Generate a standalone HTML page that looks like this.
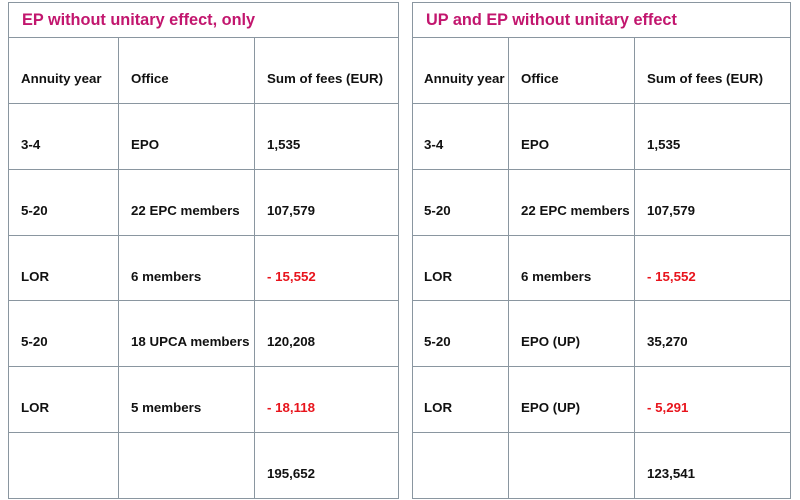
<!DOCTYPE html>
<html><head><meta charset="utf-8"><style>
body{margin:0;width:800px;height:500px;background:#fff;position:relative;overflow:hidden;font-family:"Liberation Sans",sans-serif;}
.h{position:absolute;height:1px;background:#8a96a0}
.v{position:absolute;width:1px;background:#8a96a0}
.t{position:absolute;font-size:13.3px;font-weight:bold;color:#111;line-height:16px;white-space:nowrap}
.r{color:#e8141c}
.ti{position:absolute;font-size:16.3px;font-weight:bold;color:#c2166e;line-height:20px;white-space:nowrap}
</style></head><body>
<div id="c"></div>
<script>
var ys=[2,37,103,169,235,300,366,432,498];
var tabs=[{x0:8,x1:398,cols:[118,254],tx:[21,131,267],title:"EP without unitary effect, only",
rows:[["Annuity year","Office","Sum of fees (EUR)"],["3-4","EPO","1,535"],["5-20","22 EPC members","107,579"],["LOR","6 members","- 15,552"],["5-20","18 UPCA members","120,208"],["LOR","5 members","- 18,118"],["","","195,652"]]},
{x0:412,x1:790,cols:[508,634],tx:[424,521,647],title:"UP and EP without unitary effect",
rows:[["Annuity year","Office","Sum of fees (EUR)"],["3-4","EPO","1,535"],["5-20","22 EPC members","107,579"],["LOR","6 members","- 15,552"],["5-20","EPO (UP)","35,270"],["LOR","EPO (UP)","- 5,291"],["","","123,541"]]}];
var h="";
tabs.forEach(function(t){
 ys.forEach(function(y){h+='<div class="h" style="left:'+t.x0+'px;top:'+y+'px;width:'+(t.x1-t.x0+1)+'px"></div>';});
 [t.x0,t.x1].forEach(function(x){h+='<div class="v" style="left:'+x+'px;top:2px;height:497px"></div>';});
 t.cols.forEach(function(x){h+='<div class="v" style="left:'+x+'px;top:37px;height:462px"></div>';});
 h+='<div class="ti" style="left:'+(t.x0+14)+'px;top:10px">'+t.title+'</div>';
 t.rows.forEach(function(r,i){
  var cy=(ys[i+1]+ys[i+2])/2+9;
  r.forEach(function(s,j){ if(!s)return;
   h+='<div class="t'+(s.indexOf('- ')==0?' r':'')+'" style="left:'+t.tx[j]+'px;top:'+(cy-8)+'px">'+s+'</div>';});
 });
});
document.getElementById('c').innerHTML=h;
</script>
</body></html>
